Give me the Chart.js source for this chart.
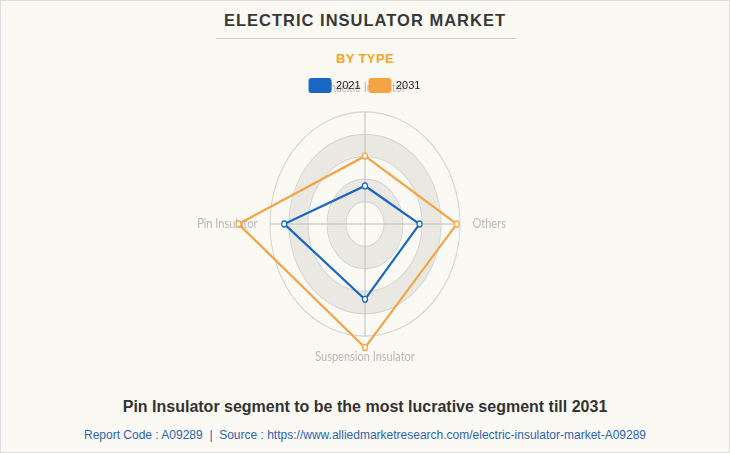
<!DOCTYPE html>
<html>
<head>
<meta charset="utf-8">
<script src="https://cdn.jsdelivr.net/npm/chart.js@4/dist/chart.umd.min.js"></script>
<style>
  html, body { margin: 0; padding: 0; }
  body { width: 730px; height: 453px; overflow: hidden; }
  #page {
    position: relative; width: 730px; height: 453px; box-sizing: border-box;
    background: #faf9f4; border: 1px solid #dedede; font-family: "Liberation Sans", Arial, sans-serif;
  }
  .title {
    position: absolute; left: 0; right: 0; top: 10px; text-align: center;
    font-size: 16.5px; font-weight: bold; letter-spacing: 1px; color: #383838;
  }
  .rule { position: absolute; left: 215px; width: 300px; top: 37px; border-top: 1px solid #cfcfcf; }
  .sub {
    position: absolute; left: 0; right: 0; top: 50px; text-align: center;
    font-size: 13px; font-weight: bold; letter-spacing: 0.4px; color: #f5a623;
  }
  #box { position: absolute; left: 0; top: 69px; width: 728px; height: 306px; }
  .note {
    position: absolute; left: 0; right: 0; top: 397px; text-align: center;
    font-size: 16px; font-weight: bold; color: #333;
  }
  .src {
    position: absolute; left: 0; right: 0; top: 427px; text-align: center;
    font-size: 12px; color: #2b65b1; white-space: pre;
  }
</style>
</head>
<body>
<div id="page">
  <div class="title">ELECTRIC INSULATOR MARKET</div>
  <div class="rule"></div>
  <div class="sub">BY TYPE</div>
  <div id="box"><canvas id="radarChart"></canvas></div>
  <div class="note">Pin Insulator segment to be the most lucrative segment till 2031</div>
  <div class="src">Report Code : A09289  |  Source : https://www.alliedmarketresearch.com/electric-insulator-market-A09289</div>
</div>
<script>
const categories = ['Shackle Insulator', 'Others', 'Suspension Insulator', 'Pin Insulator'];
const years = ['2021', '2031'];
const values2021 = [1.7, 2.87, 3.36, 4.25];
const values2031 = [3.03, 4.83, 5.51, 6.66];
const colors = ['#1b67c4', '#f4a443'];

// the original picture is taller than wide, so the radar is drawn stretched
const STRETCH = 1.18;

function stretchCtx(chart) {
  const s = chart.scales.r;
  const ctx = chart.ctx;
  ctx.save();
  ctx.translate(s.xCenter, s.yCenter);
  ctx.scale(1, STRETCH);
  ctx.translate(-s.xCenter, -s.yCenter);
}

const stretchPlugin = {
  id: 'stretch',
  afterLayout(chart) {
    const s = chart.scales.r;
    if (s._stretched) return;
    s._stretched = true;
    const drawGrid = s.drawGrid;
    s.drawGrid = function (area) {
      stretchCtx(chart);
      drawGrid.call(this, area);
      chart.ctx.restore();
    };
  },
  beforeDatasetsDraw(chart) { stretchCtx(chart); },
  afterDatasetsDraw(chart) { chart.ctx.restore(); }
};

const datasets = [values2021, values2031].map((vals, i) => ({
  label: years[i],
  data: vals,
  borderColor: colors[i],
  backgroundColor: colors[i],
  borderWidth: 2,
  fill: false,
  clip: false,
  pointRadius: 2.5,
  pointBackgroundColor: '#ffffff',
  pointBorderColor: colors[i],
  pointBorderWidth: 1.2
}));

new Chart(document.getElementById('radarChart'), {
  type: 'radar',
  data: { labels: categories, datasets: datasets },
  plugins: [stretchPlugin],
  options: {
    responsive: true,
    maintainAspectRatio: false,
    animation: false,
    layout: { padding: { bottom: 32 } },
    plugins: {
      legend: {
        position: 'top',
        labels: {
          boxWidth: 21, boxHeight: 13, padding: 9,
          useBorderRadius: true, borderRadius: 2,
          color: '#222', font: { size: 11, family: 'Liberation Sans' }
        }
      },
      tooltip: { enabled: false }
    },
    scales: {
      r: {
        min: 0,
        max: 5,
        ticks: { display: false, stepSize: 0.5 },
        grid: {
          circular: true,
          color: c => {
            const v = c.tick.value;
            if (v === 1.5 || v === 3.5) return 'rgba(0,0,0,0.065)';
            if (Number.isInteger(v)) return '#d4d4d4';
            return 'rgba(0,0,0,0)';
          },
          lineWidth: c => {
            const v = c.tick.value;
            if (v === 1.5 || v === 3.5) return c.scale.drawingArea / 5 - 1;
            if (Number.isInteger(v)) return 1;
            return 0;
          }
        },
        angleLines: { color: '#bdbdbd', lineWidth: 1 },
        pointLabels: {
          padding: c => [15, 12.5, 12, 12.5][c.index],
          color: '#b9b9b9',
          font: { size: 11, family: 'Lato', lineHeight: 1 }
        }
      }
    }
  }
});
</script>
</body>
</html>
